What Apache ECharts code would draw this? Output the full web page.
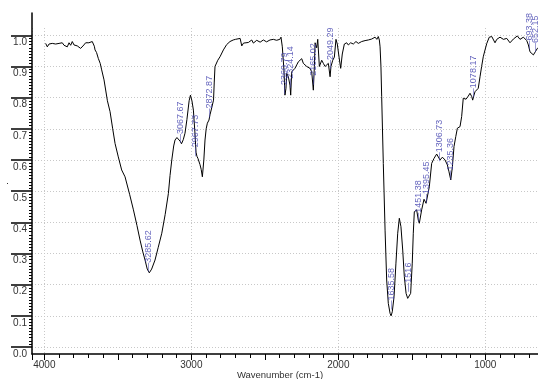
<!DOCTYPE html>
<html><head><meta charset="utf-8">
<script src="https://cdn.jsdelivr.net/npm/echarts@6/dist/echarts.min.js"></script>
<style>html,body{margin:0;padding:0;background:#fff}#c{width:538px;height:379px}</style>
</head><body><div id="c"></div>
<script>
// Spectrum (wavenumber, cm-1) and transmittance values
const wavenumbers = [
 3991,3980,3968,3957,3946,3934,3923,3912,3900,3889,3878,3866,3855,3844,3832,3821,3810,3798,3787,3776,
 3764,3753,3742,3731,3719,3708,3697,3685,3674,3667,3660,3655,3645,3633,3620,3610,3594,3571,3553,3535,
 3519,3497,3474,3451,3420,3394,3370,3349,3330,3315,3300,3286,3270,3247,3225,3201,3178,3156,3145,3133,
 3120,3111,3098,3088,3076,3067,3055,3043,3030,3015,3006,2996,2986,2976,2968,2962,2955,2948,2941,2933,
 2925,2915,2907,2899,2891,2880,2873,2860,2849,2844,2839,2820,2805,2782,2760,2737,2715,2700,2690,2668,
 2657,2645,2635,2612,2600,2589,2578,2567,2555,2544,2532,2521,2510,2499,2488,2476,2465,2453,2442,2431,
 2420,2408,2398,2390,2381,2370,2363,2356,2351,2340,2329,2324,2317,2306,2295,2283,2272,2260,2249,2238,
 2226,2215,2204,2193,2181,2170,2163,2158,2147,2140,2129,2113,2102,2090,2079,2068,2056,2050,2038,2027,
 2016,2007,1995,1984,1973,1959,1943,1932,1916,1898,1880,1864,1841,1818,1796,1773,1750,1738,1728,1721,
 1716,1710,1705,1694,1682,1671,1660,1648,1641,1633,1621,1608,1596,1585,1574,1562,1551,1539,1528,1517,
 1508,1497,1490,1483,1467,1456,1449,1433,1417,1403,1392,1381,1365,1349,1331,1320,1308,1292,1274,1258,
 1247,1235,1224,1213,1201,1190,1177,1172,1161,1150,1131,1116,1104,1092,1086,1077,1070,1059,1048,1036,
 1025,1014,1002,990,973,956,945,934,922,900,877,854,832,809,782,764,741,718,707,696,
 684,673,660,646,630
];
const transmittance = [
 0.974,0.963,0.972,0.966,0.974,0.968,0.972,0.966,0.974,0.969,0.976,0.968,0.974,0.963,0.976,0.968,0.980,0.969,0.972,0.966,
 0.969,0.958,0.963,0.969,0.976,0.980,0.976,0.982,0.980,0.982,0.965,0.953,0.945,0.926,0.910,0.889,0.857,0.790,0.755,0.700,
 0.653,0.610,0.568,0.546,0.490,0.440,0.390,0.343,0.305,0.279,0.250,0.238,0.250,0.279,0.320,0.365,0.425,0.493,0.550,0.600,
 0.645,0.664,0.672,0.670,0.660,0.652,0.665,0.686,0.730,0.790,0.808,0.790,0.760,0.690,0.625,0.612,0.605,0.600,0.585,0.570,
 0.546,0.600,0.664,0.700,0.718,0.728,0.745,0.770,0.792,0.850,0.900,0.920,0.931,0.953,0.970,0.980,0.985,0.987,0.985,0.990,
 0.966,0.975,0.974,0.977,0.972,0.985,0.975,0.979,0.984,0.987,0.978,0.980,0.985,0.987,0.979,0.980,0.985,0.983,0.987,0.987,
 0.984,0.990,0.987,0.994,0.963,0.889,0.808,0.830,0.878,0.867,0.840,0.808,0.883,0.885,0.894,0.905,0.915,0.920,0.925,0.910,
 0.915,0.900,0.905,0.894,0.883,0.824,0.900,0.976,0.960,0.987,0.900,0.920,0.910,0.900,0.894,0.910,0.867,0.900,0.920,0.930,
 0.987,0.972,0.930,0.894,0.940,0.972,0.976,0.969,0.976,0.972,0.980,0.974,0.980,0.983,0.985,0.988,0.994,0.987,0.996,0.985,
 0.963,0.900,0.803,0.589,0.375,0.215,0.140,0.108,0.100,0.113,0.161,0.269,0.365,0.413,0.386,0.311,0.226,0.172,0.156,0.153,
 0.172,0.269,0.365,0.434,0.440,0.407,0.397,0.440,0.474,0.461,0.464,0.514,0.589,0.605,0.619,0.613,0.600,0.609,0.600,0.584,
 0.562,0.536,0.578,0.643,0.675,0.702,0.707,0.707,0.739,0.798,0.795,0.805,0.814,0.803,0.792,0.808,0.819,0.822,0.830,0.867,
 0.900,0.931,0.953,0.974,0.994,0.996,0.990,0.976,0.987,0.994,0.987,0.990,0.976,0.988,0.998,0.987,0.994,0.983,0.969,0.947,
 0.953,0.937,0.947,0.958,0.962
];
// Peak annotations
const peakWn   = [3285.62,3067.67,2967.73,2872.87,2360.79,2324.14,2165.02,2049.29,1635.58,1516,1451.38,1395.45,1306.73,1235.36,1078.17,693.38,652.15];
const peakVal  = [0.240,0.653,0.610,0.735,0.810,0.830,0.840,0.890,0.119,0.176,0.400,0.460,0.594,0.536,0.800,0.953,0.945];
const peakText = ['3285.62','3067.67','2967.73','2872.87','2360.79','2324.14','2165.02','2049.29','1635.58','1516','1451.38','1395.45','1306.73','1235.36','1078.17','693.38','652.15'];
const xTitle = 'Wavenumber (cm-1)';

const FONT = 'Liberation Sans, Arial, sans-serif';
const chart = echarts.init(document.getElementById('c'), null, {renderer:'canvas'});
const gridL = 32, gridW = 600.3;
const gridBase = {left:gridL, width:gridW, containLabel:false, outerBoundsMode:'none'};
chart.setOption({
  animation:false,
  backgroundColor:'#fff',
  textStyle:{fontFamily:FONT},
  grid:[
    Object.assign({top:35.3, height:311.7}, gridBase),
    Object.assign({top:13, height:341}, gridBase),
    Object.assign({top:28, height:326}, gridBase)
  ],
  xAxis:[
    {gridIndex:0, type:'value', min:0, max:4084, inverse:true, interval:500, offset:7,
     axisLine:{onZero:false, lineStyle:{color:'#000', width:1.5}},
     axisTick:{length:6, lineStyle:{color:'#000', width:1}},
     minorTick:{show:true, splitNumber:5, length:4, lineStyle:{color:'#000', width:1}},
     axisLabel:{formatter:v => (v % 1000 === 0 ? String(v) : ''), color:'#333', fontSize:10, margin:6, fontFamily:FONT},
     splitLine:{show:false}},
    {gridIndex:1, type:'value', min:0, max:4084, inverse:true, show:false},
    {gridIndex:2, type:'value', min:0, max:4084, inverse:true, interval:1000,
     axisLine:{show:false}, axisTick:{show:false}, axisLabel:{show:false},
     splitLine:{show:true, lineStyle:{color:'#c8c8c8', type:[1,2], width:1}}}
  ],
  yAxis:[
    {gridIndex:0, type:'value', min:0, max:1, interval:0.1,
     axisLine:{show:false, onZero:false},
     axisTick:{length:21, lineStyle:{color:'#000', width:1.5}},
     minorTick:{show:true, splitNumber:10, length:3, lineStyle:{color:'#000', width:1}},
     axisLabel:{formatter:v => v.toFixed(1), color:'#333', fontSize:10, margin:5, verticalAlign:'top', padding:[2,0,0,0], fontFamily:FONT},
     splitLine:{show:true, lineStyle:{color:'#c8c8c8', type:[1,2], width:1}}},
    {gridIndex:1, type:'value', min:0, max:1,
     axisLine:{show:true, onZero:false, lineStyle:{color:'#000', width:1.5}},
     axisTick:{show:false}, axisLabel:{show:false}, splitLine:{show:false},
     name:'.', nameLocation:'middle', nameGap:22, nameRotate:90, nameTextStyle:{fontSize:9, color:'#333'}},
    {gridIndex:2, type:'value', min:0, max:1, show:false}
  ],
  graphic:[
    {type:'text', x:280, y:375, style:{text:xTitle, font:'9.5px '+FONT, fill:'#333', align:'center', verticalAlign:'middle'}}
  ],
  series:[
    {type:'line', xAxisIndex:0, yAxisIndex:0, symbol:'none', silent:true,
     data: wavenumbers.map((w,i)=>[w, transmittance[i]]),
     lineStyle:{color:'#000', width:1}, z:2},
    {type:'scatter', xAxisIndex:0, yAxisIndex:0, symbolSize:1, silent:true,
     itemStyle:{color:'rgba(0,0,0,0)'},
     data: peakWn.map((w,i)=>({name:peakText[i], value:[w, peakVal[i]]})),
     label:{show:true, formatter:'—{b}', position:[0,0], rotate:90, align:'left', verticalAlign:'middle',
            color:'#3d3dad', fontSize:9, fontFamily:FONT},
     z:3}
  ]
});
</script></body></html>
